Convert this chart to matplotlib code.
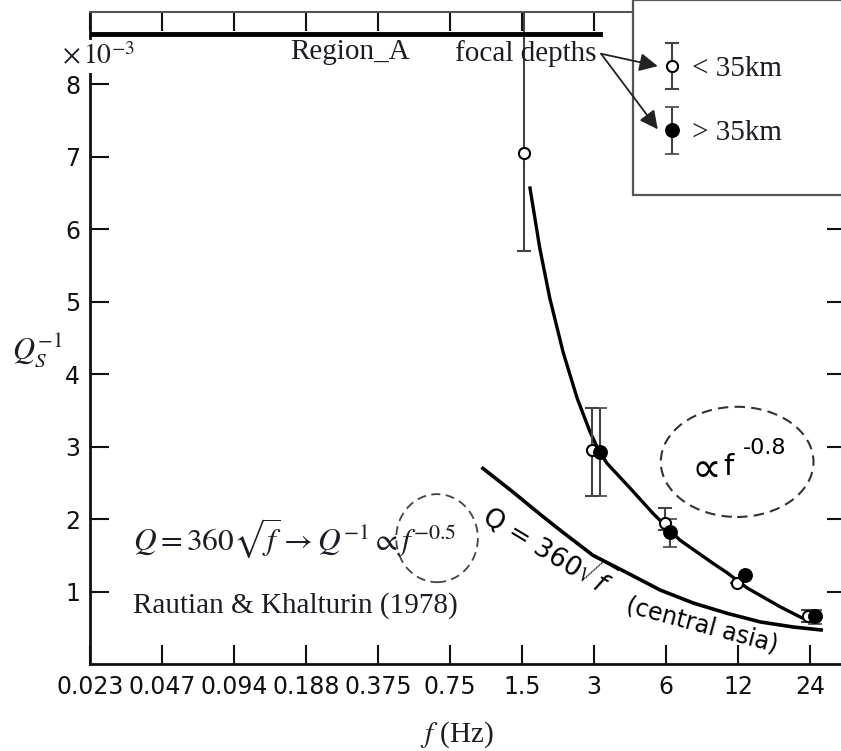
import matplotlib
matplotlib.use('Agg')
import matplotlib.pyplot as plt
from matplotlib.patches import Ellipse, Rectangle
from matplotlib.ticker import FixedLocator, NullLocator
from matplotlib.container import ErrorbarContainer
from matplotlib.legend_handler import HandlerErrorbar

plt.rcParams['mathtext.fontset'] = 'stix'

# octave frequencies on the x axis
freq_ticks = [0.0234375, 0.046875, 0.09375, 0.1875, 0.375, 0.75, 1.5, 3, 6, 12, 24]
freq_labels = ['0.023', '0.047', '0.094', '0.188', '0.375', '0.75', '1.5', '3', '6', '12', '24']
q_ticks = [1, 2, 3, 4, 5, 6, 7, 8]

# focal depth < 35 km (open circles), Q^-1 in units of 1e-3
shallow_f = [1.53, 2.94, 5.97, 11.9, 23.5]
shallow_q = [7.05, 2.95, 1.94, 1.12, 0.66]
shallow_lo = [5.70, 2.32, 1.85, 1.12, 0.58]
shallow_hi = [9.40, 3.53, 2.15, 1.12, 0.75]

# focal depth > 35 km (filled circles)
deep_f = [3.17, 6.25, 12.8, 25.2]
deep_q = [2.92, 1.82, 1.23, 0.66]
deep_lo = [2.32, 1.61, 1.23, 0.55]
deep_hi = [3.53, 2.00, 1.23, 0.75]

# fitted curve  ~ f^-0.8
fit_f = [1.62, 1.78, 1.96, 2.23, 2.55, 2.89, 3.17, 3.40, 4.24, 5.29, 6.86, 9.43, 10.8, 13.1, 18.0, 21.8, 24.7]
fit_q = [6.57, 5.74, 5.05, 4.30, 3.67, 3.20, 2.92, 2.77, 2.43, 2.08, 1.71, 1.39, 1.26, 1.05, 0.79, 0.65, 0.57]

# Q = 360 sqrt(f), central asia
asia_f = [1.03, 1.38, 1.78, 2.16, 2.97, 4.12, 5.68, 7.83, 10.8, 14.9, 20.5, 26.7]
asia_q = [2.70, 2.37, 2.07, 1.85, 1.50, 1.26, 1.02, 0.84, 0.70, 0.58, 0.51, 0.47]

txt_col = '#1c1c24'
serif = 'Liberation Serif'

fig = plt.figure(figsize=(8.41, 7.51), dpi=100)
ax = fig.add_axes([90 / 841, 87 / 751, 756 / 841, 652 / 751])
ax.set_xscale('log', base=2)
ax.set_xlim(24 / 1024, 24 * 2 ** 0.5)
ax.set_ylim(0, 9.0)

ax.xaxis.set_major_locator(FixedLocator(freq_ticks))
ax.xaxis.set_minor_locator(NullLocator())
ax.set_xticklabels(freq_labels)
ax.yaxis.set_major_locator(FixedLocator(q_ticks))
ax.yaxis.set_minor_locator(NullLocator())

ax.spines['right'].set_visible(False)
ax.spines['top'].set_color('#555555')
ax.spines['top'].set_linewidth(1.5)
for s in ['left', 'bottom']:
    ax.spines[s].set_color('#111111')
    ax.spines[s].set_linewidth(2)

ax.tick_params(axis='x', direction='in', length=14, width=1.5, top=True,
               labelsize=17, pad=8, colors='#111111')
ax.tick_params(axis='y', direction='in', length=14, width=1.5, right=True,
               labelsize=17, pad=7, colors='#111111')

# curves
ax.plot(fit_f, fit_q, color='black', lw=2.4, zorder=4)
ax.plot(asia_f, asia_q, color='black', lw=2.6, zorder=4)

# data
eb_open = ax.errorbar(shallow_f, shallow_q,
                      yerr=[[q - lo for q, lo in zip(shallow_q, shallow_lo)],
                            [hi - q for q, hi in zip(shallow_q, shallow_hi)]],
                      fmt='o', ms=8, mfc='white', mec='black', mew=1.5,
                      ecolor='#444444', elinewidth=1.5, capsize=5, capthick=1.5, zorder=5)
eb_fill = ax.errorbar(deep_f, deep_q,
                      yerr=[[q - lo for q, lo in zip(deep_q, deep_lo)],
                            [hi - q for q, hi in zip(deep_q, deep_hi)]],
                      fmt='o', ms=9.5, mfc='black', mec='black', mew=1.2,
                      ecolor='#444444', elinewidth=1.5, capsize=5, capthick=1.5, zorder=5)

# black bar along the top
ax.axhline(8.70, xmin=0, xmax=(600 - 90) / 756, color='black', lw=3.5, zorder=7)

# legend box
ax.add_patch(Rectangle((0.718, 0.719), 0.3, 0.3, transform=ax.transAxes,
                       facecolor='white', edgecolor='#555555', lw=1.6,
                       clip_on=False, zorder=3))

leg = ax.legend([eb_open, eb_fill], ['< 35km', '> 35km'], loc='upper left',
                bbox_to_anchor=(0.760, 0.933), frameon=False, borderpad=0,
                borderaxespad=0, handlelength=0.5, handletextpad=0.45,
                labelspacing=1.3, prop={'family': serif, 'size': 21},
                handler_map={ErrorbarContainer: HandlerErrorbar(xerr_size=0.8, yerr_size=0.8)})
for t in leg.get_texts():
    t.set_color(txt_col)

ax.text(0.577, 0.937, 'focal depths', transform=ax.transAxes, ha='center', va='center',
        fontsize=21, family=serif, color=txt_col, zorder=6)
ax.text(0.344, 0.939, 'Region_A', transform=ax.transAxes, ha='center', va='center',
        fontsize=21, family=serif, color=txt_col, zorder=6)
for tip in [(0.751, 0.917), (0.751, 0.820)]:
    ax.annotate('', xy=tip, xytext=(0.676, 0.936), xycoords='axes fraction',
                arrowprops=dict(arrowstyle='-|>,head_length=0.5,head_width=0.25',
                                color='#222222', lw=1.3, mutation_scale=22,
                                shrinkA=0, shrinkB=0), zorder=6)

ax.text(0.011, 0.932, r'$\times\,10^{-3}$', transform=ax.transAxes, ha='center', va='center',
        fontsize=20, color=txt_col, zorder=6,
        bbox=dict(facecolor='white', edgecolor='none', pad=2))

# annotations
ax.text(0.057, 0.193, r'$Q = 360\sqrt{f} \rightarrow Q^{-1} \propto f^{-0.5}$',
        transform=ax.transAxes, ha='left', va='center', fontsize=22.6, color=txt_col)
ax.add_patch(Ellipse((0.459, 0.193), 0.108, 0.135, transform=ax.transAxes, fill=False,
                     ls=(0, (5, 3)), ec='#444444', lw=1.3))
ax.text(0.057, 0.090, 'Rautian & Khalturin (1978)', transform=ax.transAxes, ha='left',
        va='center', fontsize=21, family=serif, color=txt_col)

ax.add_patch(Ellipse((0.856, 0.310), 0.202, 0.169, transform=ax.transAxes, fill=False,
                     ls=(0, (5, 3)), ec='#333333', lw=1.5))
ax.text(0.815, 0.298, '∝', transform=ax.transAxes, ha='center', va='center', fontsize=30)
ax.text(0.845, 0.302, 'f', transform=ax.transAxes, ha='center', va='center', fontsize=21)
ax.text(0.893, 0.331, '-0.8', transform=ax.transAxes, ha='center', va='center', fontsize=16)

ax.text(1.93, 1.60, r'Q = 360$\sqrt{f}$', rotation=-31, rotation_mode='anchor',
        ha='center', va='center', fontsize=19, math_fontfamily='dejavusans')
ax.text(8.49, 0.54, '(central asia)', rotation=-15, rotation_mode='anchor',
        ha='center', va='center', fontsize=17)

ax.set_xlabel(r'$f$ (Hz)', fontsize=21, family=serif, color=txt_col)
ax.xaxis.set_label_coords(0.485, -0.109)
ax.xaxis.label.set_va('center')
ax.set_ylabel(r'$Q_S^{-1}$', fontsize=22, rotation=0, color=txt_col, ha='center', va='center')
ax.yaxis.set_label_coords(-0.070, 0.482)

fig.savefig('out.png', dpi=100)
